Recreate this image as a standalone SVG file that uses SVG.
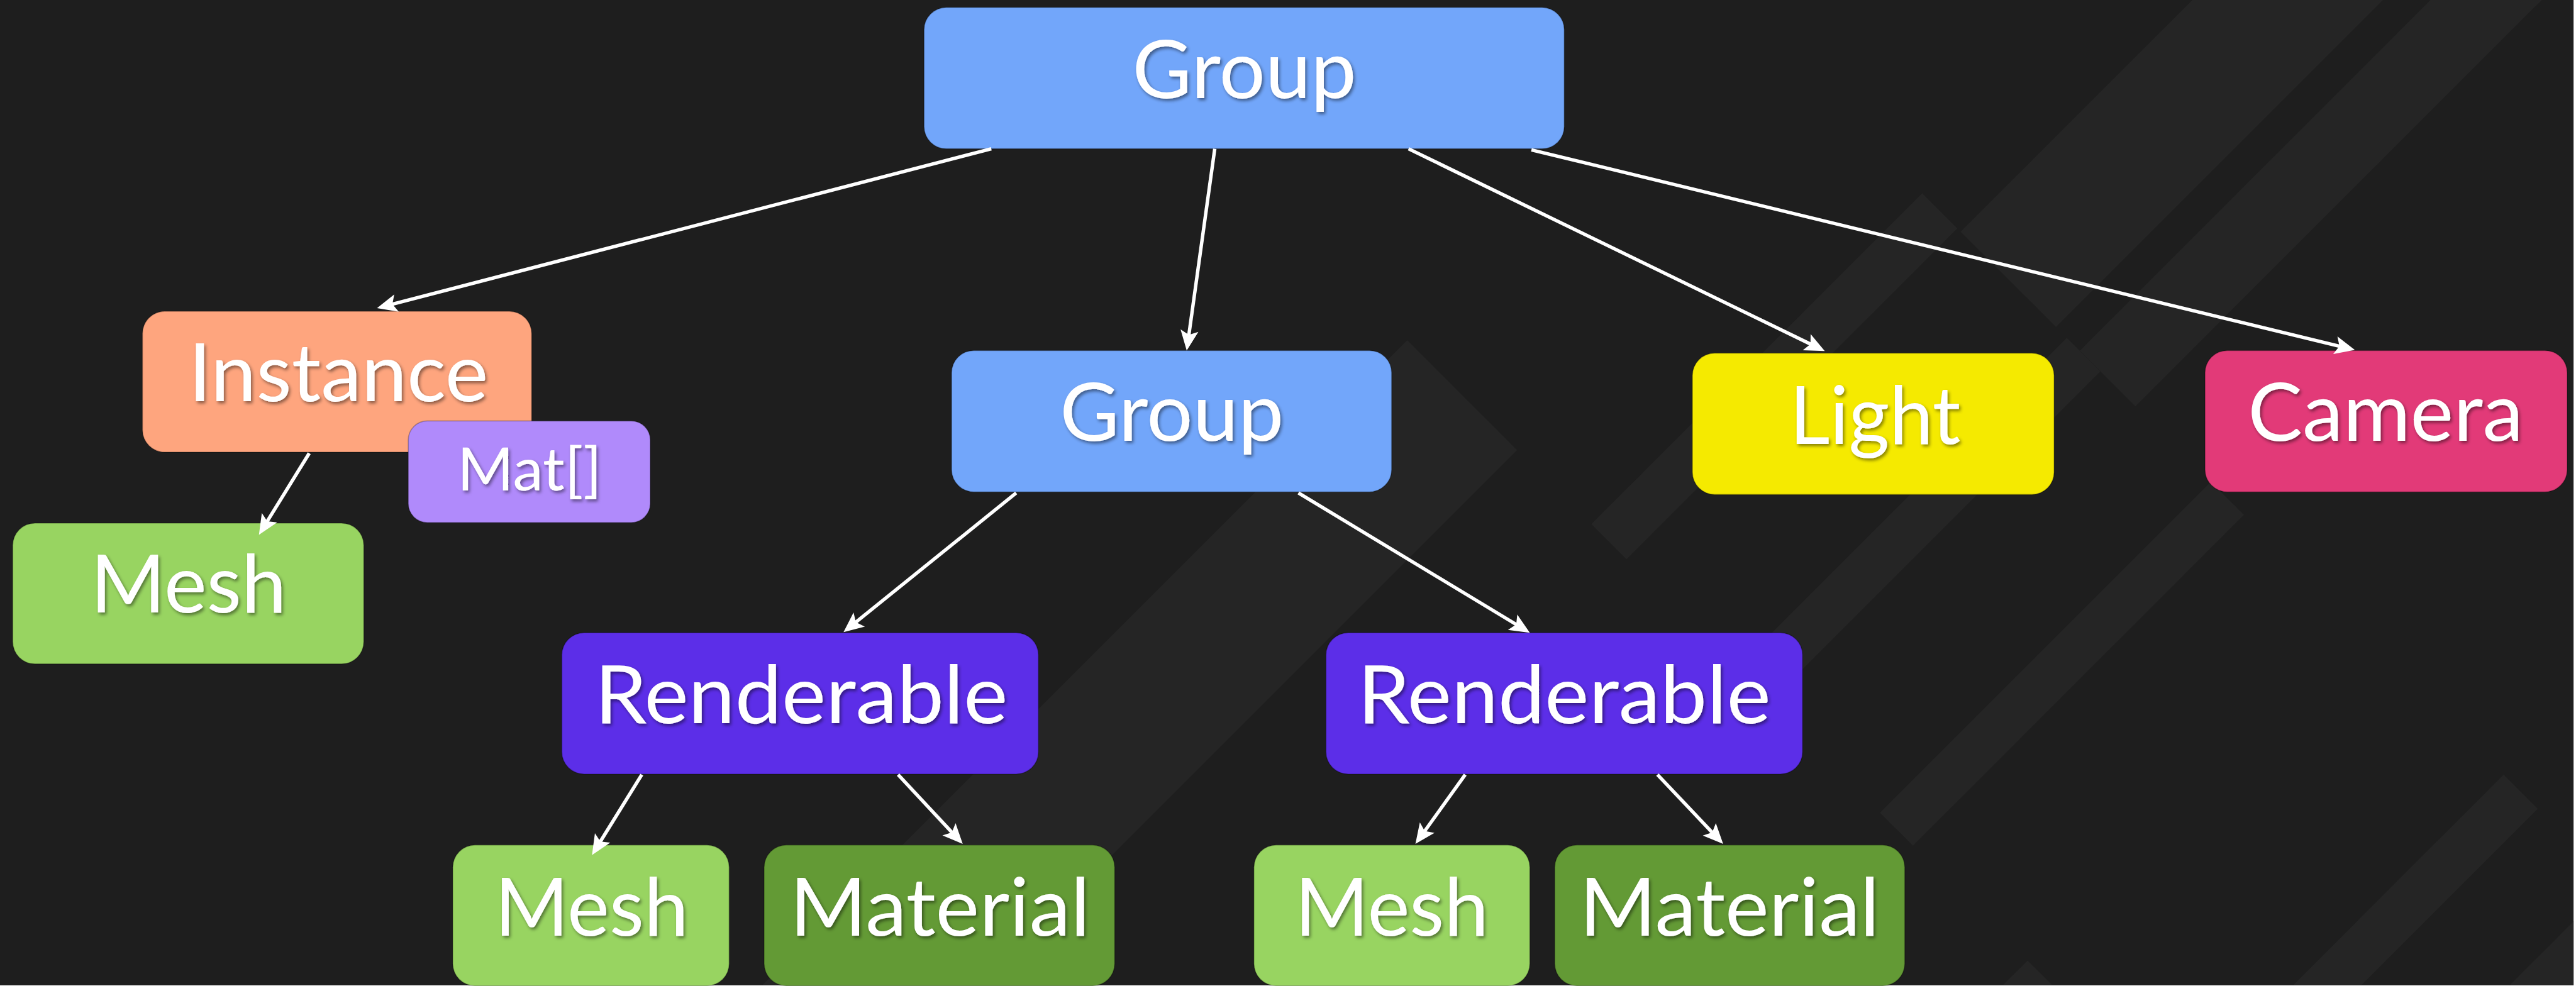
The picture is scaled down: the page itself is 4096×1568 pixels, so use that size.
<svg xmlns="http://www.w3.org/2000/svg" width="4096" height="1568" viewBox="0 0 4096 1568">
<defs>
<style>
.node rect{stroke:rgba(0,0,0,0.25);stroke-width:2}
.lbl{font-family:Lato,"Open Sans","Liberation Sans",sans-serif;font-size:151px;fill:#ffffff;text-anchor:middle;filter:url(#ts)}
.small{font-size:113px}
.conn line{stroke:#ffffff;stroke-width:6.5;fill:none;marker-end:url(#ah)}
.band{fill:#252525}
</style>
<filter id="ts" x="-10%" y="-20%" width="130%" height="150%">
<feDropShadow dx="3" dy="4" stdDeviation="3" flood-color="#000000" flood-opacity="0.45"/>
</filter>
<marker id="ah" viewBox="-20 -20 44 40" refX="0" refY="0" markerWidth="44" markerHeight="40" markerUnits="userSpaceOnUse" orient="auto">
<path d="M21,0 L-17,-17 L-9,0 L-17,17 Z" fill="#ffffff"/>
</marker>
</defs>
<g transform="scale(0.842)">
<rect x="0" y="0" width="4860" height="1861" fill="#1e1e1e"/>
<g id="background">
<polygon class="band" points="2657.5,642.5 2865,850 1854,1861 1439,1861"/>
<polygon class="band" points="3829,1814 3876,1861 3782,1861"/>
<polygon class="band" points="3630,365 3696.5,431.5 3071.5,1056.5 3005,990"/>
<polygon class="band" points="3903,638 3966.5,701.5 3341.5,1326.5 3278,1263"/>
<polygon class="band" points="4175,910 4237.5,972.5 3612.5,1597.5 3550,1535"/>
<polygon class="band" points="4728,1463 4792.5,1527.5 4459,1861 4330,1861"/>
<polygon class="band" points="4860,1740 4860,1861 4739,1861"/>
<polygon class="band" points="3702.5,437.5 4140,0 4500,0 3882.5,617.5"/>
<polygon class="band" points="3927.5,662.5 4590,0 4800,0 4032.5,767.5"/>
</g>
<g id="nodes">
<g id="group-top" class="node"><rect x="1745" y="14" width="1209" height="267" rx="42" fill="#72a6fa"/><text class="lbl" x="2350" y="185" textLength="423" lengthAdjust="spacingAndGlyphs">Group</text></g>
<g id="instance" class="node"><rect x="269" y="588" width="735" height="266" rx="42" fill="#fea57e"/><text class="lbl" x="639" y="758" textLength="566" lengthAdjust="spacingAndGlyphs">Instance</text></g>
<g id="mat-array" class="node"><rect x="771" y="795" width="457" height="192" rx="36" fill="#b08afb"/><text class="lbl small" x="1000" y="926" textLength="273" lengthAdjust="spacingAndGlyphs">Mat[]</text></g>
<g id="mesh-instance" class="node"><rect x="24" y="988" width="663" height="266" rx="42" fill="#98d461"/><text class="lbl" x="356" y="1157" textLength="370" lengthAdjust="spacingAndGlyphs">Mesh</text></g>
<g id="group-mid" class="node"><rect x="1797" y="662" width="831" height="267" rx="42" fill="#72a6fa"/><text class="lbl" x="2213" y="833" textLength="423" lengthAdjust="spacingAndGlyphs">Group</text></g>
<g id="light" class="node"><rect x="3196" y="667" width="683" height="267" rx="42" fill="#f5ea00"/><text class="lbl" x="3541" y="838" textLength="323" lengthAdjust="spacingAndGlyphs">Light</text></g>
<g id="camera" class="node"><rect x="4164" y="662" width="684" height="267" rx="42" fill="#e23a78"/><text class="lbl" x="4505" y="833" textLength="520" lengthAdjust="spacingAndGlyphs">Camera</text></g>
<g id="renderable-1" class="node"><rect x="1061" y="1195" width="900" height="267" rx="42" fill="#5c2ee8"/><text class="lbl" x="1513" y="1366" textLength="780" lengthAdjust="spacingAndGlyphs">Renderable</text></g>
<g id="renderable-2" class="node"><rect x="2504" y="1195" width="900" height="267" rx="42" fill="#5c2ee8"/><text class="lbl" x="2954" y="1366" textLength="780" lengthAdjust="spacingAndGlyphs">Renderable</text></g>
<g id="mesh-1" class="node"><rect x="855" y="1596" width="522" height="266" rx="42" fill="#98d461"/><text class="lbl" x="1117" y="1767" textLength="366" lengthAdjust="spacingAndGlyphs">Mesh</text></g>
<g id="material-1" class="node"><rect x="1443" y="1596" width="662" height="266" rx="42" fill="#639a35"/><text class="lbl" x="1775" y="1767" textLength="567" lengthAdjust="spacingAndGlyphs">Material</text></g>
<g id="mesh-2" class="node"><rect x="2368" y="1596" width="521" height="266" rx="42" fill="#98d461"/><text class="lbl" x="2628" y="1767" textLength="366" lengthAdjust="spacingAndGlyphs">Mesh</text></g>
<g id="material-2" class="node"><rect x="2936" y="1596" width="661" height="266" rx="42" fill="#639a35"/><text class="lbl" x="3266" y="1767" textLength="567" lengthAdjust="spacingAndGlyphs">Material</text></g>
</g>
<g id="connectors" class="conn">
<line x1="1872" y1="281" x2="732.3" y2="576.7"/>
<line x1="2294" y1="281" x2="2243.9" y2="641.2"/>
<line x1="2660" y1="281" x2="3427.1" y2="653.8"/>
<line x1="2892" y1="283" x2="4426.6" y2="656"/>
<line x1="584" y1="856" x2="500" y2="992.1"/>
<line x1="1919" y1="931" x2="1609.3" y2="1180.8"/>
<line x1="2452" y1="931" x2="2871" y2="1184.1"/>
<line x1="1212" y1="1463" x2="1129" y2="1597.1"/>
<line x1="1696" y1="1463" x2="1803.7" y2="1578.6"/>
<line x1="2767" y1="1463" x2="2685.2" y2="1576.9"/>
<line x1="3130" y1="1463" x2="3239.6" y2="1578.7"/>
</g>
</g>
</svg>
